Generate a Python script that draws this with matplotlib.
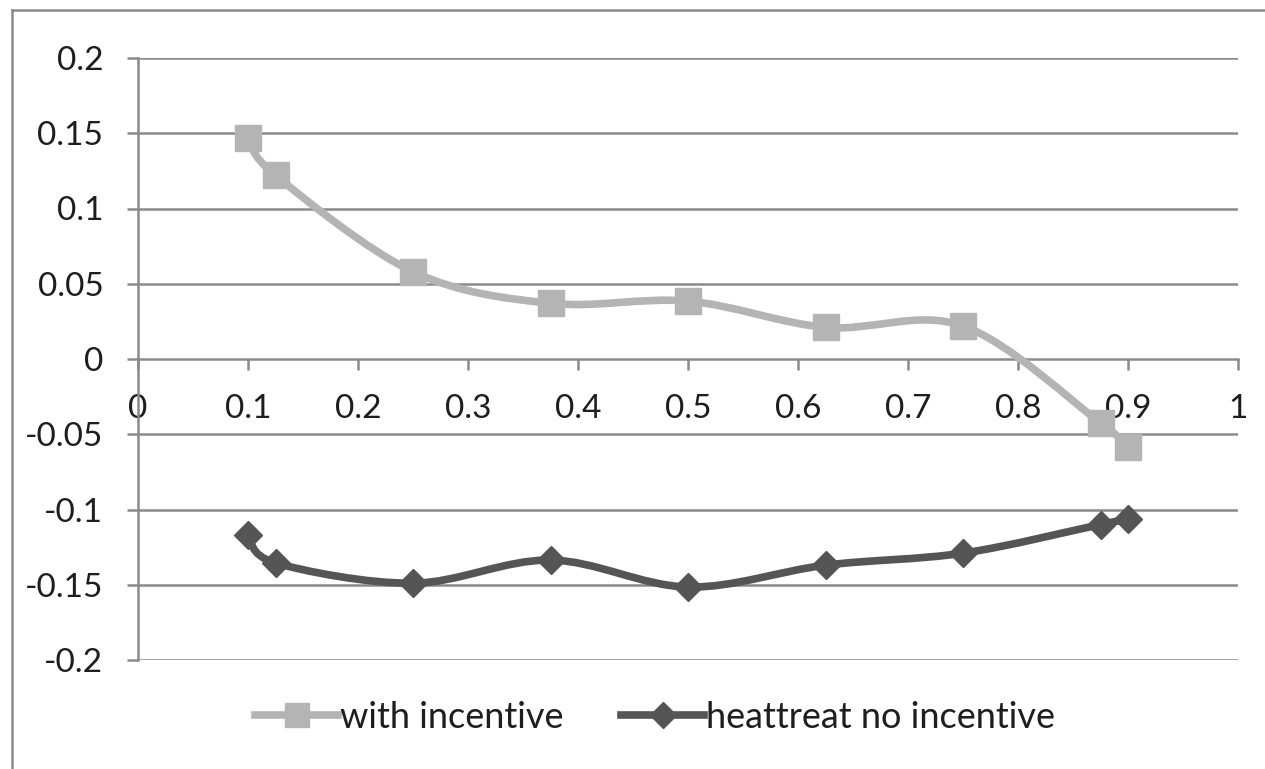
import matplotlib

matplotlib.use("Agg")
import matplotlib.pyplot as plt
import numpy as np
from matplotlib.lines import Line2D
from matplotlib.patches import PathPatch
from matplotlib.path import Path

# data
X = [0.1, 0.125, 0.25, 0.375, 0.5, 0.625, 0.75, 0.875, 0.9]
WITH_INCENTIVE = [0.147, 0.122, 0.058, 0.037, 0.0385, 0.021, 0.022, -0.0425, -0.0585]
HEATTREAT_NO_INCENTIVE = [-0.117, -0.1355, -0.149, -0.1336, -0.1515, -0.137, -0.129, -0.110, -0.1063]
LABELS = ["with incentive", "heattreat no incentive"]
XTICKS = [0, 0.1, 0.2, 0.3, 0.4, 0.5, 0.6, 0.7, 0.8, 0.9, 1]
YTICKS = [-0.2, -0.15, -0.1, -0.05, 0, 0.05, 0.1, 0.15, 0.2]

C_LIGHT = "#b4b4b4"
C_DARK = "#555555"
GRID = "#8a8a8a"

plt.rcParams.update({
    "font.family": ["Lato", "DejaVu Sans"],
    "font.size": 24,
})


def smooth_path(xs, ys):
    """Excel-like smoothed line: Catmull-Rom segments as cubic Beziers."""
    p = np.column_stack([xs, ys])
    ext = np.vstack([p[0], p, p[-1]])
    verts = [p[0]]
    codes = [Path.MOVETO]
    for i in range(1, len(ext) - 2):
        c1 = ext[i] + (ext[i + 1] - ext[i - 1]) / 6
        c2 = ext[i + 1] - (ext[i + 2] - ext[i]) / 6
        verts += [c1, c2, ext[i + 1]]
        codes += [Path.CURVE4] * 3
    return Path(verts, codes)


fig = plt.figure(figsize=(12.65, 7.69), dpi=100)
ax = fig.add_axes([138 / 1265, 1 - 660 / 769, 1100 / 1265, 602 / 769])

# outer chart border (left and top only visible)
fig.add_artist(Line2D([12 / 1265, 12 / 1265], [0, 1 - 10 / 769], color=GRID, lw=1.8))
fig.add_artist(Line2D([12 / 1265, 1], [1 - 10 / 769, 1 - 10 / 769], color=GRID, lw=1.8))

for y in YTICKS:
    if y != 0:
        ax.axhline(y, color=GRID, lw=1.8, zorder=1)

for ys, col, mk, ms in [(WITH_INCENTIVE, C_LIGHT, "s", 19),
                        (HEATTREAT_NO_INCENTIVE, C_DARK, "D", 14)]:
    ax.add_patch(PathPatch(smooth_path(X, ys), fill=False, edgecolor=col, lw=5.5,
                           capstyle="round", joinstyle="round", zorder=3))
    ax.plot(X, ys, ls="none", marker=mk, ms=ms, color=col, mec=col, zorder=4)

ax.set_xlim(0, 1)
ax.set_ylim(-0.2, 0.2)
ax.set_xticks(XTICKS)
ax.set_xticklabels([f"{t:g}" for t in XTICKS])
ax.set_yticks(YTICKS)
ax.set_yticklabels([f"{t:g}" for t in YTICKS])

for s in ("top", "right"):
    ax.spines[s].set_visible(False)
ax.spines["bottom"].set_position(("data", 0))
ax.spines["bottom"].set_zorder(2)
for s in ("left", "bottom"):
    ax.spines[s].set_color(GRID)
    ax.spines[s].set_linewidth(1.8)
ax.tick_params(axis="x", direction="out", length=8, width=1.8, color=GRID, pad=17,
               labelcolor="#1e1e1e")
ax.tick_params(axis="y", direction="out", length=8, width=1.8, color=GRID, pad=17,
               labelcolor="#1e1e1e")

handles = [
    Line2D([], [], color=C_LIGHT, lw=5.5, marker="s", ms=17, mec=C_LIGHT),
    Line2D([], [], color=C_DARK, lw=5.5, marker="D", ms=13, mec=C_DARK),
]
fig.legend(handles, LABELS, loc="center", bbox_to_anchor=(655 / 1265, 1 - 717 / 769),
           ncol=2, frameon=False, handlelength=2.3, handletextpad=0.05,
           columnspacing=1.6, fontsize=26, labelcolor="#1e1e1e")

fig.savefig("out.png", dpi=100)
